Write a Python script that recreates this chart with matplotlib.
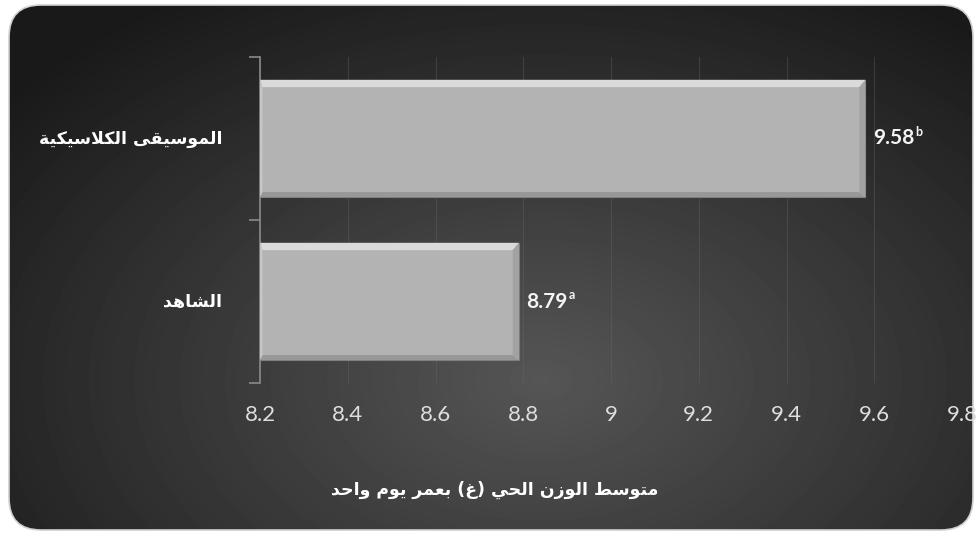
import numpy as np
import matplotlib.pyplot as plt
from matplotlib.patches import FancyBboxPatch, Polygon

# data
categories = ["الشاهد", "الموسيقى الكلاسيكية"]
values = [8.79, 9.58]
letters = ["a", "b"]
xticks = [8.2, 8.4, 8.6, 8.8, 9.0, 9.2, 9.4, 9.6, 9.8]
xtick_labels = ["8.2", "8.4", "8.6", "8.8", "9", "9.2", "9.4", "9.6", "9.8"]
xlabel = "متوسط الوزن الحي (غ) بعمر يوم واحد"

# --- tiny arabic shaper (matplotlib has no shaping / bidi) ---
DUAL = {'ب': 0xFE8F, 'ت': 0xFE95, 'ح': 0xFEA1, 'س': 0xFEB1, 'ش': 0xFEB5,
        'ط': 0xFEC1, 'ع': 0xFEC9, 'غ': 0xFECD, 'ق': 0xFED5, 'ك': 0xFED9,
        'ل': 0xFEDD, 'م': 0xFEE1, 'ن': 0xFEE5, 'ه': 0xFEE9, 'ي': 0xFEF1}
RIGHT = {'ا': 0xFE8D, 'ة': 0xFE93, 'د': 0xFEA9, 'ر': 0xFEAD, 'ز': 0xFEAF,
         'و': 0xFEED, 'ى': 0xFEEF, 'LA': 0xFEFB}


def shape(text):
    chars = []
    i = 0
    while i < len(text):
        if text[i] == 'ل' and i + 1 < len(text) and text[i + 1] == 'ا':
            chars.append('LA')
            i += 2
        else:
            chars.append(text[i])
            i += 1
    out = []
    for i, c in enumerate(chars):
        if c not in DUAL and c not in RIGHT:
            out.append({'(': ')', ')': '('}.get(c, c))
            continue
        prev_j = i > 0 and chars[i - 1] in DUAL
        next_j = c in DUAL and i + 1 < len(chars) and (chars[i + 1] in DUAL or chars[i + 1] in RIGHT)
        base = DUAL.get(c, RIGHT.get(c))
        if prev_j and next_j:
            off = 3
        elif prev_j:
            off = 1
        elif next_j:
            off = 2
        else:
            off = 0
        out.append(chr(base + off))
    return ''.join(reversed(out))


W, H = 979, 536
fig = plt.figure(figsize=(W / 100, H / 100), dpi=100, facecolor='white')

# background: rounded dark panel with radial gradient
bg = fig.add_axes([0, 0, 1, 1])
bg.set_xlim(0, W)
bg.set_ylim(H, 0)
bg.axis('off')
yy, xx = np.mgrid[0:H, 0:W]
r = np.sqrt(((xx - 540) / 640.0) ** 2 + ((yy - 380) / 420.0) ** 2)
grad = np.clip(0.335 - 0.22 * r, 0.1, 1)
box = FancyBboxPatch((9, 5), 964, 525, boxstyle="round,pad=0,rounding_size=32",
                     facecolor='none', edgecolor='#d0d0d0', lw=1.2)
bg.add_patch(box)
im = bg.imshow(grad, cmap='gray', vmin=0, vmax=1, extent=(0, W, H, 0), aspect='auto')
im.set_clip_path(box)

ax = fig.add_axes([260 / W, 1 - 383 / H, (962 - 260) / W, (383 - 57) / H])
ax.set_facecolor('none')
ax.set_xlim(8.2, 9.8)
ax.set_ylim(-0.5, 1.5)

ypos = np.arange(len(categories))
bh = 0.72
ax.barh(ypos, [v - 8.2 for v in values], left=8.2, height=bh,
        color='#b3b3b3', edgecolor='#7a7a7a', lw=0.8, zorder=3)

# bevel strips
dx, dy = 0.014, 0.045
for y, v in zip(ypos, values):
    x0, x1 = 8.2, v
    t, b = y + bh / 2, y - bh / 2
    ax.add_patch(Polygon([(x0, t), (x1, t), (x1 - dx, t - dy), (x0 + dx * 0.4, t - dy)],
                         closed=True, fc='#dadada', ec='none', zorder=4))
    ax.add_patch(Polygon([(x0, b), (x1, b), (x1 - dx, b + dy * 0.7), (x0 + dx * 0.4, b + dy * 0.7)],
                         closed=True, fc='#989898', ec='none', zorder=4))
    ax.add_patch(Polygon([(x1, t), (x1, b), (x1 - dx, b + dy * 0.7), (x1 - dx, t - dy)],
                         closed=True, fc='#a2a2a2', ec='none', zorder=4))
    ax.add_patch(Polygon([(x0, t), (x0, b), (x0 + dx * 0.4, b + dy * 0.7), (x0 + dx * 0.4, t - dy)],
                         closed=True, fc='#c6c6c6', ec='none', zorder=4))

# value labels with superscript letter
for y, v, l in zip(ypos, values, letters):
    t = ax.annotate(f"{v:.2f}", xy=(v, y), xytext=(5.5, 0), textcoords='offset points',
                    ha='left', va='center', color='#f4f4f4', fontsize=15,
                    fontweight='bold', family='Lato', zorder=5)
    ax.annotate(l, xy=(1, 1), xycoords=t, xytext=(0.3, 1.5), textcoords='offset points',
                ha='left', va='top', color='#f4f4f4', fontsize=9, fontweight='bold',
                family='Lato')

ax.set_xticks(xticks)
ax.set_xticklabels(xtick_labels, family='Lato', fontsize=16, color='#dedede')
ax.tick_params(axis='x', length=0, pad=16)
ax.set_yticks([-0.5, 0.5, 1.5])
ax.set_yticklabels([])
ax.tick_params(axis='y', length=8, width=1.2, color='#8a8a8a')
ax.grid(axis='x', color='#6a6a6a', lw=0.8, alpha=0.35, zorder=0)
for s in ['top', 'right', 'bottom']:
    ax.spines[s].set_visible(False)
ax.spines['left'].set_color('#8a8a8a')
ax.spines['left'].set_linewidth(1.2)

for y, c in zip(ypos, categories):
    ax.text(-0.054, y, shape(c), transform=ax.get_yaxis_transform(),
            ha='right', va='center', color='white', fontsize=12.5, fontweight='bold',
            family='DejaVu Sans')

fig.text(495 / W, 1 - 490 / H, shape(xlabel), ha='center', va='center',
         color='white', fontsize=12.5, fontweight='bold', family='DejaVu Sans')

fig.savefig('out.png', dpi=100, facecolor='white')
